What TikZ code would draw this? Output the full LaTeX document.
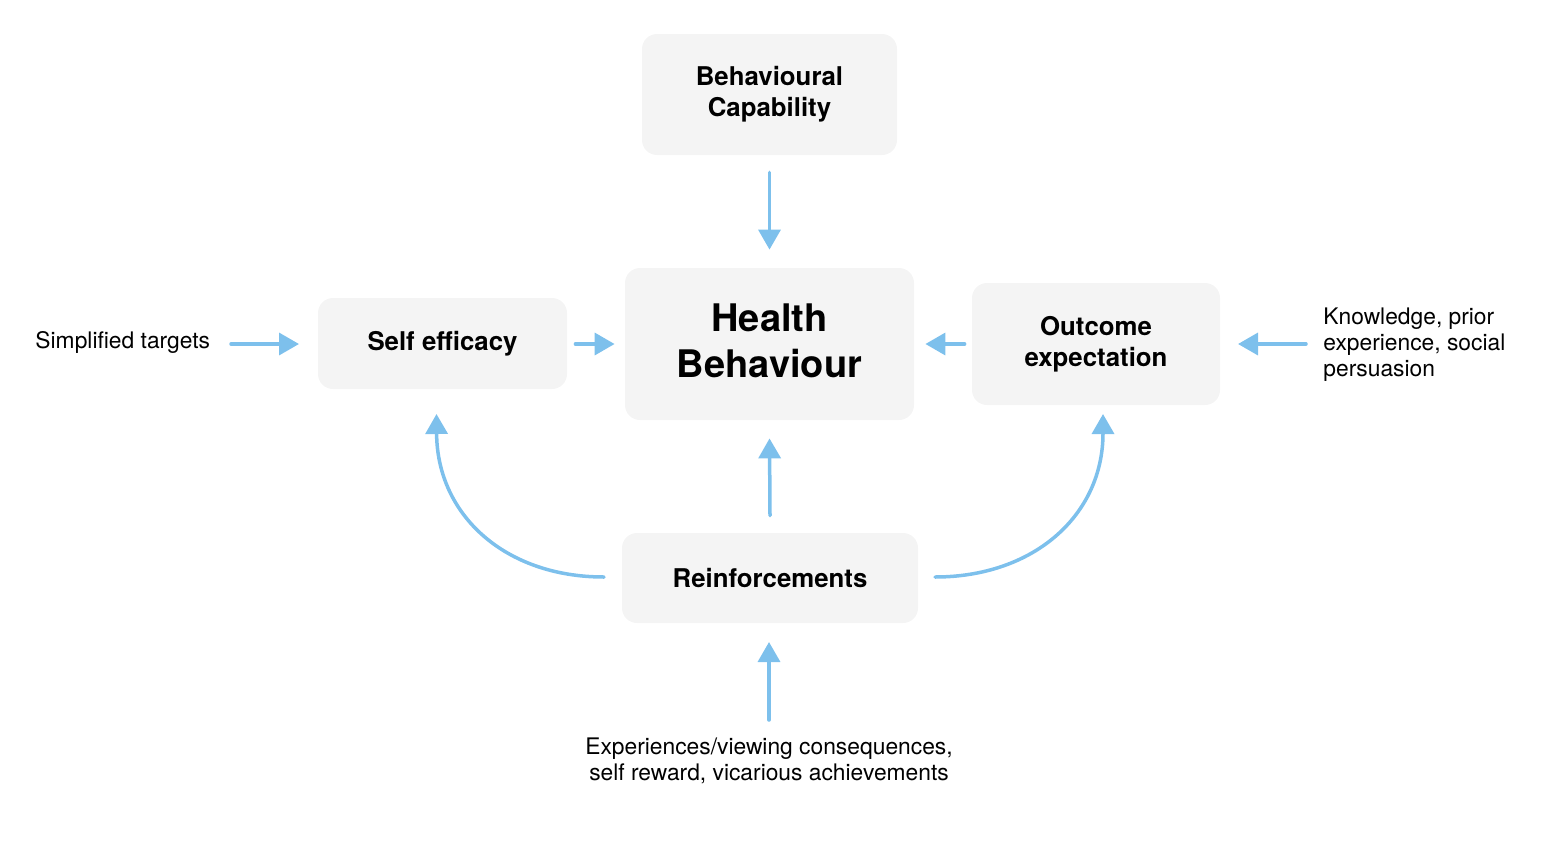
\documentclass[tikz,border=0pt]{standalone}
\usepackage{fontspec}
\setmainfont{TeX Gyre Heros}
\usetikzlibrary{arrows.meta}
\definecolor{boxfill}{HTML}{F4F4F4}
\definecolor{arrowblue}{HTML}{7DC0EC}
\begin{document}
\begin{tikzpicture}[x=0.5pt,y=-0.5pt,
  box/.style={fill=boxfill,draw=none,rounded corners=7.5pt,inner sep=0pt,align=center,
    font=\fontsize{12.9}{15.5}\selectfont\bfseries},
  label/.style={inner sep=0pt,font=\fontsize{11.4}{13}\selectfont},
  arr/.style={draw=arrowblue,line width=1.75pt,line cap=round,
    -{Triangle[length=10pt,width=11pt,line cap=butt]}},
]
\useasboundingbox (0,0) rectangle (1562,846);
% boxes
\node[box,minimum width=127.5pt,minimum height=60.5pt] (bc) at (769.5,94.5) {Behavioural\\Capability};
\node[box,minimum width=144.5pt,minimum height=76pt,font=\fontsize{19}{23}\selectfont\bfseries] (hb) at (769.5,344)
  {\raisebox{-0.5pt}[\height][\depth]{\begin{tabular}{@{}c@{}}Health\\Behaviour\end{tabular}}};
\node[box,minimum width=124.5pt,minimum height=45.5pt] (se) at (442.5,343.5) {Self efficacy};
\node[box,minimum width=124pt,minimum height=61pt] (oe) at (1096,344) {Outcome\\expectation};
\node[box,minimum width=148pt,minimum height=45pt] (re) at (770,578) {Reinforcements};
% labels
\node[label,anchor=west] (st) at (35,342) {Simplified targets};
\node[label,anchor=west,align=left] (kn) at (1323,345) {Knowledge, prior\\experience, social\\persuasion};
\node[label,align=center] (ex) at (769,760.5) {Experiences/viewing consequences,\\self reward, vicarious achievements};
% arrow end coordinates
\coordinate (stA) at (231,344);
\coordinate (stB) at (299,344);
\coordinate (knA) at (1306,344);
\coordinate (knB) at (1238,344);
\coordinate (exA) at (769,720);
\coordinate (exB) at (769,642);
\coordinate (reL) at (604,577);
\coordinate (seT) at (436.5,414);
\coordinate (reR) at (935,577);
\coordinate (oeT) at (1103,414);
% arrows
\draw[arr] (bc.south) ++(0,17) -- ([yshift=9pt]hb.north);
\draw[arr] (stA) -- (stB);
\draw[arr] ([xshift=4pt]se.east |- 0,344) -- ([xshift=-5pt]hb.west |- 0,344);
\draw[arr] ([xshift=-3.5pt]oe.west |- 0,344) -- ([xshift=5.5pt]hb.east |- 0,344);
\draw[arr] (knA) -- (knB);
\draw[arr] ([yshift=8.5pt]re.north) -- ([yshift=-9pt]hb.south);
\draw[arr] (exA) -- (exB);
\draw[arr] (reL) .. controls (505,577) and (437,515) .. (seT);
\draw[arr] (reR) .. controls (1034,577) and (1103,515) .. (oeT);
\end{tikzpicture}
\end{document}
